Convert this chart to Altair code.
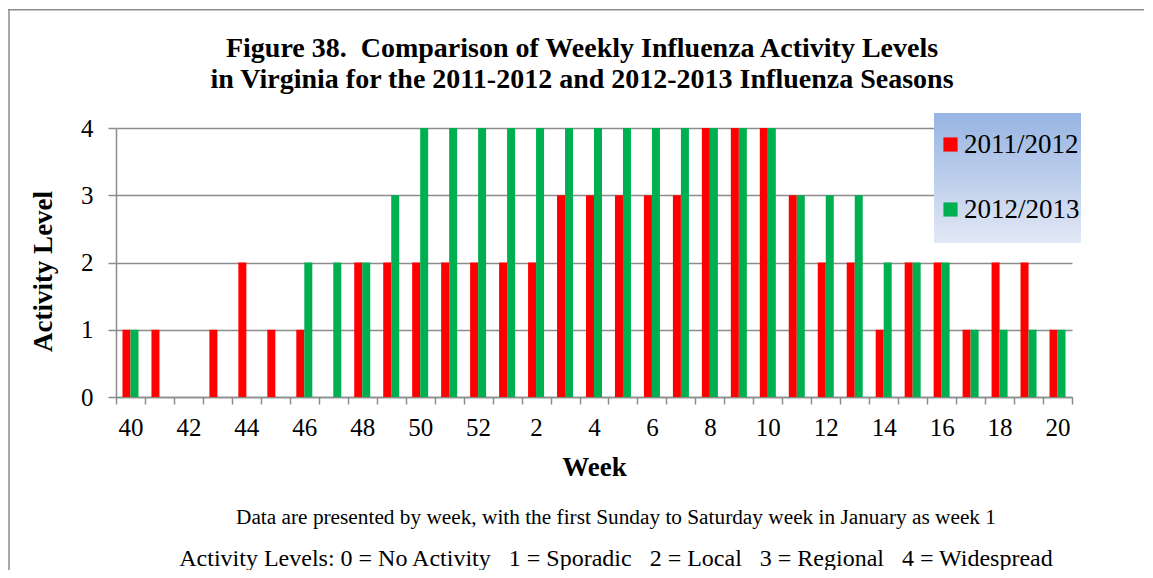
import altair as alt
import pandas as pd

weeks = ["40", "41", "42", "43", "44", "45", "46", "47", "48", "49", "50", "51", "52",
         "1", "2", "3", "4", "5", "6", "7", "8", "9", "10", "11", "12", "13", "14",
         "15", "16", "17", "18", "19", "20"]
season_2011 = [1, 1, 0, 1, 2, 1, 1, 0, 2, 2, 2, 2, 2,
               2, 2, 3, 3, 3, 3, 3, 4, 4, 4, 3, 2, 2, 1,
               2, 2, 1, 2, 2, 1]
season_2012 = [1, 0, 0, 0, 0, 0, 2, 2, 2, 3, 4, 4, 4,
               4, 4, 4, 4, 4, 4, 4, 4, 4, 4, 3, 3, 3, 2,
               2, 2, 1, 1, 1, 1]
seasons = ["2011/2012", "2012/2013"]
colors = ["#FF0000", "#00B050"]

NB = "\u00a0"
title_line1 = "Figure 38." + NB + " Comparison of Weekly Influenza Activity Levels"
title_line2 = "in Virginia for the 2011-2012 and 2012-2013 Influenza Seasons"
note1 = "Data are presented by week, with the first Sunday to Saturday week in January as week 1"
gap = NB + NB + " "
note2 = ("Activity Levels: 0 = No Activity" + gap + "1 = Sporadic" + gap + "2 = Local"
         + gap + "3 = Regional" + gap + "4 = Widespread")

rows = []
for w, a, b in zip(weeks, season_2011, season_2012):
    rows.append({"week": w, "season": seasons[0], "level": a})
    rows.append({"week": w, "season": seasons[1], "level": b})
df = pd.DataFrame(rows)

FONT = "Liberation Serif"
GRID = "#8c8c8c"
W, H = 956, 269
PAD_L, PAD_T, PAD_R, PAD_B = 108, 120, 73, 173

bars = alt.Chart(df).mark_bar().encode(
    x=alt.X("week:N", sort=weeks,
            scale=alt.Scale(paddingInner=0, paddingOuter=0),
            axis=alt.Axis(title="Week", labelAngle=0, tickBand="extent",
                          labelExpr="toNumber(datum.value) % 2 == 0 ? datum.value : ''",
                          labelOverlap=False, labelFont=FONT, labelFontSize=25,
                          labelColor="#000000", labelPadding=11,
                          tickSize=7, tickColor=GRID, tickWidth=1.5,
                          domainColor=GRID, domainWidth=1.5,
                          titleFont=FONT, titleFontSize=27, titleFontWeight="bold",
                          titleColor="#000000", titleY=70, titleBaseline="middle")),
    xOffset=alt.XOffset("season:N", sort=seasons,
                        scale=alt.Scale(paddingInner=0, paddingOuter=0.81)),
    y=alt.Y("level:Q", scale=alt.Scale(domain=[0, 4], nice=False),
            axis=alt.Axis(title="Activity Level", values=[0, 1, 2, 3, 4], format="d",
                          labelFont=FONT, labelFontSize=25, labelColor="#000000",
                          labelPadding=15, tickSize=8, tickColor=GRID, tickWidth=1.5,
                          domainColor=GRID, domainWidth=1.5,
                          gridColor=GRID, gridWidth=1.5,
                          titleFont=FONT, titleFontSize=27, titleFontWeight="bold",
                          titleColor="#000000", titleX=-73, titleY=143,
                          titleBaseline="middle", titleAlign="center", titleAngle=-90)),
    color=alt.Color("season:N", sort=seasons,
                    scale=alt.Scale(domain=seasons, range=colors),
                    legend=alt.Legend(title=None, orient="none", legendX=821, legendY=3,
                                      symbolType="square", symbolSize=200,
                                      symbolStrokeWidth=0, labelFont=FONT,
                                      labelFontSize=27, labelColor="#000000",
                                      labelOffset=0, rowPadding=37, padding=0)),
)

one = pd.DataFrame({"k": [0]})

legend_bg = alt.Chart(one).mark_rect(
    color=alt.Gradient(gradient="linear",
                       stops=[alt.GradientStop(color="#97b4e2", offset=0),
                              alt.GradientStop(color="#e2e8f5", offset=1)],
                       x1=0, x2=0, y1=0, y2=1)
).encode(x=alt.value(818), x2=alt.value(965), y=alt.value(-15), y2=alt.value(115))

frame_top = alt.Chart(one).mark_rect(fill="#8c8c8c", strokeWidth=0).encode(
    x=alt.value(-108), x2=alt.value(W + PAD_R - 1), y=alt.value(-119), y2=alt.value(-117.5))
frame_left = alt.Chart(one).mark_rule(color="#8c8c8c", strokeWidth=1.5).encode(
    x=alt.value(-107), y=alt.value(-118), y2=alt.value(H + PAD_B))


def text_layer(txt, size, xpos, ypos, bold=False, baseline="middle"):
    return alt.Chart(pd.DataFrame({"text": [txt]})).mark_text(
        font=FONT, fontSize=size, color="#000000", align="center", baseline=baseline,
        fontWeight="bold" if bold else "normal"
    ).encode(text="text:N", x=alt.value(xpos), y=alt.value(ypos))


t1 = text_layer(title_line1, 28, 466, -71, bold=True, baseline="alphabetic")
t2 = text_layer(title_line2, 28, 466, -40, bold=True, baseline="alphabetic")
n1 = text_layer(note1, 21.3, 500, 390)
n2 = text_layer(note2, 24, 500, 431)

chart = alt.layer(frame_top, frame_left, bars, legend_bg, t1, t2, n1, n2).properties(
    width=W, height=H,
    autosize=alt.AutoSizeParams(type="none"),
    padding={"left": PAD_L, "top": PAD_T, "right": PAD_R, "bottom": PAD_B},
).configure_view(stroke=None).configure_axisX(grid=False)

chart.save("out.html", embed_options={"renderer": "svg", "actions": False})
